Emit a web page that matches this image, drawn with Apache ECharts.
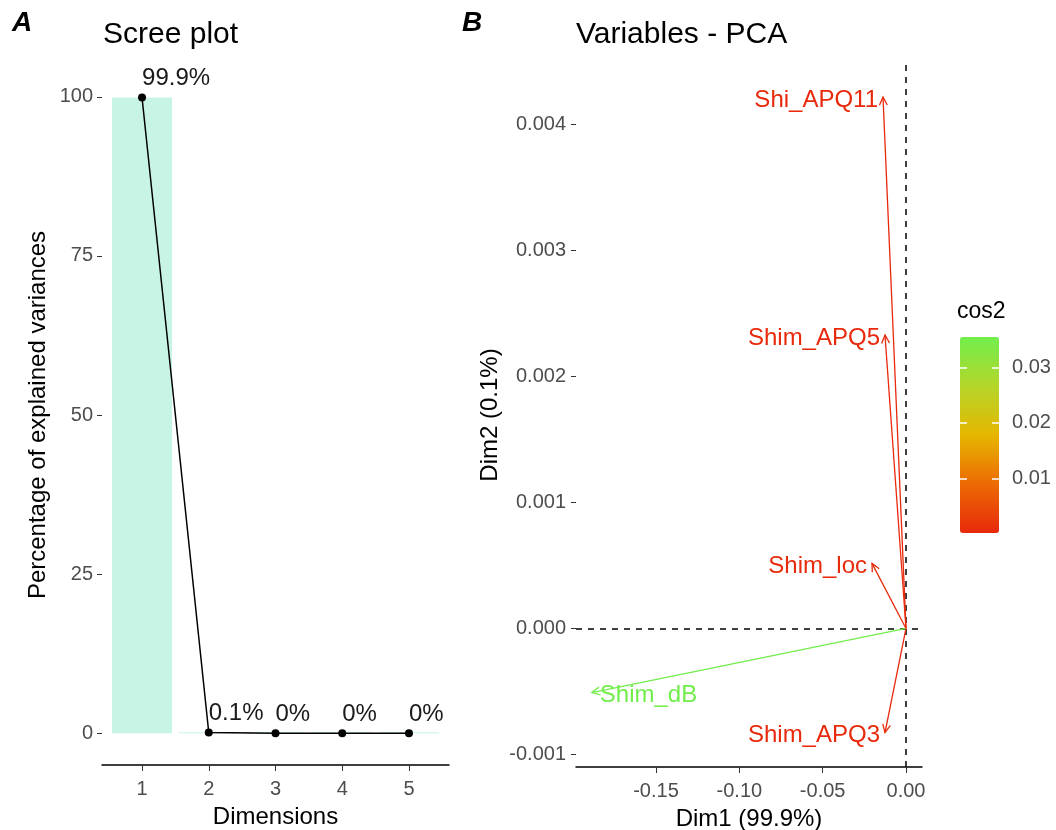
<!DOCTYPE html>
<html><head><meta charset="utf-8">
<script src="https://cdn.jsdelivr.net/npm/echarts@6/dist/echarts.min.js"></script>
<style>html,body{margin:0;padding:0;background:#fff}#c{width:1056px;height:830px}</style>
</head><body><div id="c"></div>
<script>
// ---- Scree plot data ----
const dims = [1, 2, 3, 4, 5];
const explained = [99.9, 0.1, 0, 0, 0];
const screeTicks = [0, 25, 50, 75, 100];
// ---- PCA variables data ----
const varNames = ['Shi_APQ11', 'Shim_APQ5', 'Shim_loc', 'Shim_dB', 'Shim_APQ3'];
const dim1 = [-0.0138, -0.0126, -0.0204, -0.1885, -0.0126];
const dim2 = [0.00422, 0.00233, 0.000517, -0.000509, -0.000827];
const cos2 = [0.00021, 0.00017, 0.00042, 0.0355, 0.00017];
const xTicks = [-0.15, -0.10, -0.05, 0];
const yTicks = [-0.001, 0, 0.001, 0.002, 0.003, 0.004];
const cosTicks = [0.01, 0.02, 0.03];

const FONT = '"Liberation Sans", Arial, sans-serif';
const chart = echarts.init(document.getElementById('c'));

const screeBar = dims.map((d, i) => [d, explained[i]]);
const varData = varNames.map((n, i) => [dim1[i], dim2[i], cos2[i]]);

const tickLab = { color: '#4d4d4d', fontSize: 20, fontFamily: FONT };
const nameStyle = { color: '#000', fontSize: 24, fontFamily: FONT };

chart.setOption({
  animation: false,
  textStyle: { fontFamily: FONT },
  title: [
    { text: 'A', left: 12, top: 9, padding: 0, textStyle: { fontSize: 28, fontWeight: 'bold', fontStyle: 'italic', color: '#000', fontFamily: FONT } },
    { text: 'Scree plot', left: 103, top: 20, padding: 0, textStyle: { fontSize: 30, fontWeight: 'normal', color: '#000', fontFamily: FONT } },
    { text: 'B', left: 462, top: 9, padding: 0, textStyle: { fontSize: 28, fontWeight: 'bold', fontStyle: 'italic', color: '#000', fontFamily: FONT } },
    { text: 'Variables - PCA', left: 576, top: 20, padding: 0, textStyle: { fontSize: 30, fontWeight: 'normal', color: '#000', fontFamily: FONT } },
    { text: 'cos2', left: 957, top: 300, padding: 0, textStyle: { fontSize: 23, fontWeight: 'normal', color: '#000', fontFamily: FONT } }
  ],
  grid: [
    { left: 102, top: 65, width: 347, height: 700, outerBoundsMode: 'none', containLabel: false },
    { left: 576, top: 63, width: 346, height: 704, outerBoundsMode: 'none', containLabel: false },
    { left: 960, top: 337, width: 39, height: 196, outerBoundsMode: 'none', containLabel: false }
  ],
  xAxis: [
    { gridIndex: 0, type: 'value', min: 0.4, max: 5.6,
      name: 'Dimensions', nameLocation: 'middle', nameGap: 40, nameTextStyle: nameStyle,
      axisLine: { show: true, onZero: false, lineStyle: { color: '#000', width: 1.5 } },
      axisTick: { show: true, length: 6, customValues: dims, lineStyle: { color: '#333' } },
      axisLabel: { customValues: dims, margin: 14, ...tickLab },
      splitLine: { show: false } },
    { gridIndex: 1, type: 'value', min: -0.198, max: 0.0096,
      name: 'Dim1 (99.9%)', nameLocation: 'middle', nameGap: 40, nameTextStyle: nameStyle,
      axisLine: { show: true, onZero: false, lineStyle: { color: '#000', width: 1.5 } },
      axisTick: { show: true, length: 6, customValues: xTicks, lineStyle: { color: '#333' } },
      axisLabel: { customValues: xTicks, margin: 14, formatter: v => v.toFixed(2), ...tickLab },
      splitLine: { show: false } },
    { gridIndex: 2, type: 'value', show: false, min: 0, max: 1 }
  ],
  yAxis: [
    { gridIndex: 0, type: 'value', min: -5, max: 105,
      name: 'Percentage of explained variances', nameLocation: 'middle', nameGap: 52, nameTextStyle: nameStyle,
      axisLine: { show: false, onZero: false },
      axisTick: { show: true, length: 5, customValues: screeTicks, lineStyle: { color: '#333' } },
      axisLabel: { customValues: screeTicks, margin: 9, ...tickLab },
      splitLine: { show: false } },
    { gridIndex: 1, type: 'value', min: -0.0011, max: 0.00449,
      name: 'Dim2 (0.1%)', nameLocation: 'middle', nameGap: 74, nameTextStyle: nameStyle,
      axisLine: { show: false, onZero: false },
      axisTick: { show: true, length: 5, customValues: yTicks, lineStyle: { color: '#333' } },
      axisLabel: { customValues: yTicks, margin: 10, formatter: v => v.toFixed(3), ...tickLab },
      splitLine: { show: false } },
    { gridIndex: 2, type: 'value', position: 'left', min: 0.00016, max: 0.0355, z: 10,
      axisLine: { show: false },
      axisTick: { show: true, inside: true, length: 7, customValues: cosTicks, lineStyle: { color: '#fff', width: 1.5 } },
      axisLabel: { show: false }, splitLine: { show: false } },
    { gridIndex: 2, type: 'value', position: 'right', min: 0.00016, max: 0.0355, z: 10,
      axisLine: { show: false },
      axisTick: { show: true, inside: true, length: 7, customValues: cosTicks, lineStyle: { color: '#fff', width: 1.5 } },
      axisLabel: { customValues: cosTicks, margin: 13, formatter: v => v.toFixed(2), ...tickLab },
      splitLine: { show: false } }
  ],
  visualMap: {
    type: 'continuous', seriesIndex: 2, dimension: 2,
    min: 0.00016, max: 0.0355, calculable: false, show: true,
    left: 960, top: 337, itemWidth: 39, itemHeight: 196, padding: 0, z: 2,
    text: null, textStyle: { color: 'transparent' },
    inRange: { color: ['#e8290b', '#ec6a04', '#e6b600', '#b4d62a', '#72ee4c'] }
  },
  series: [
    { type: 'bar', xAxisIndex: 0, yAxisIndex: 0, data: screeBar, barWidth: 60, barMinHeight: 1,
      itemStyle: { color: '#c8f4e6' }, z: 1 },
    { type: 'line', xAxisIndex: 0, yAxisIndex: 0, data: screeBar,
      lineStyle: { color: '#000', width: 1.5 }, itemStyle: { color: '#000' },
      symbol: 'circle', symbolSize: 8, z: 3,
      label: { show: true, position: 'top', align: 'left', distance: 3,
        formatter: p => explained[p.dataIndex] + '%',
        fontSize: 24, color: '#1a1a1a', fontFamily: FONT } },
    { type: 'custom', xAxisIndex: 1, yAxisIndex: 1, data: varData, z: 5,
      renderItem: function (params, api) {
        const o = api.coord([0, 0]);
        const p = api.coord([api.value(0), api.value(1)]);
        const color = api.visual('color');
        const ang = Math.atan2(p[1] - o[1], p[0] - o[0]);
        const L = 9, a = Math.PI / 7;
        const h1 = [p[0] - L * Math.cos(ang - a), p[1] - L * Math.sin(ang - a)];
        const h2 = [p[0] - L * Math.cos(ang + a), p[1] - L * Math.sin(ang + a)];
        const leftSide = api.value(0) < -0.1;
        return { type: 'group', children: [
          { type: 'line', shape: { x1: o[0], y1: o[1], x2: p[0], y2: p[1] }, style: { stroke: color, lineWidth: 1.3 } },
          { type: 'polyline', shape: { points: [h1, p, h2] }, style: { stroke: color, lineWidth: 1.3, fill: null } },
          { type: 'text', x: leftSide ? p[0] + 8 : p[0] - 5, y: p[1] + 3,
            style: { text: varNames[params.dataIndex], fill: color, font: '24px ' + FONT,
              align: leftSide ? 'left' : 'right', verticalAlign: 'middle' } }
        ] };
      },
      markLine: { silent: true, symbol: 'none', label: { show: false },
        lineStyle: { color: '#000', width: 1.5, type: [6, 6] },
        data: [{ xAxis: 0 }, { yAxis: 0 }] }
    }
  ]
});
</script>
</body></html>
